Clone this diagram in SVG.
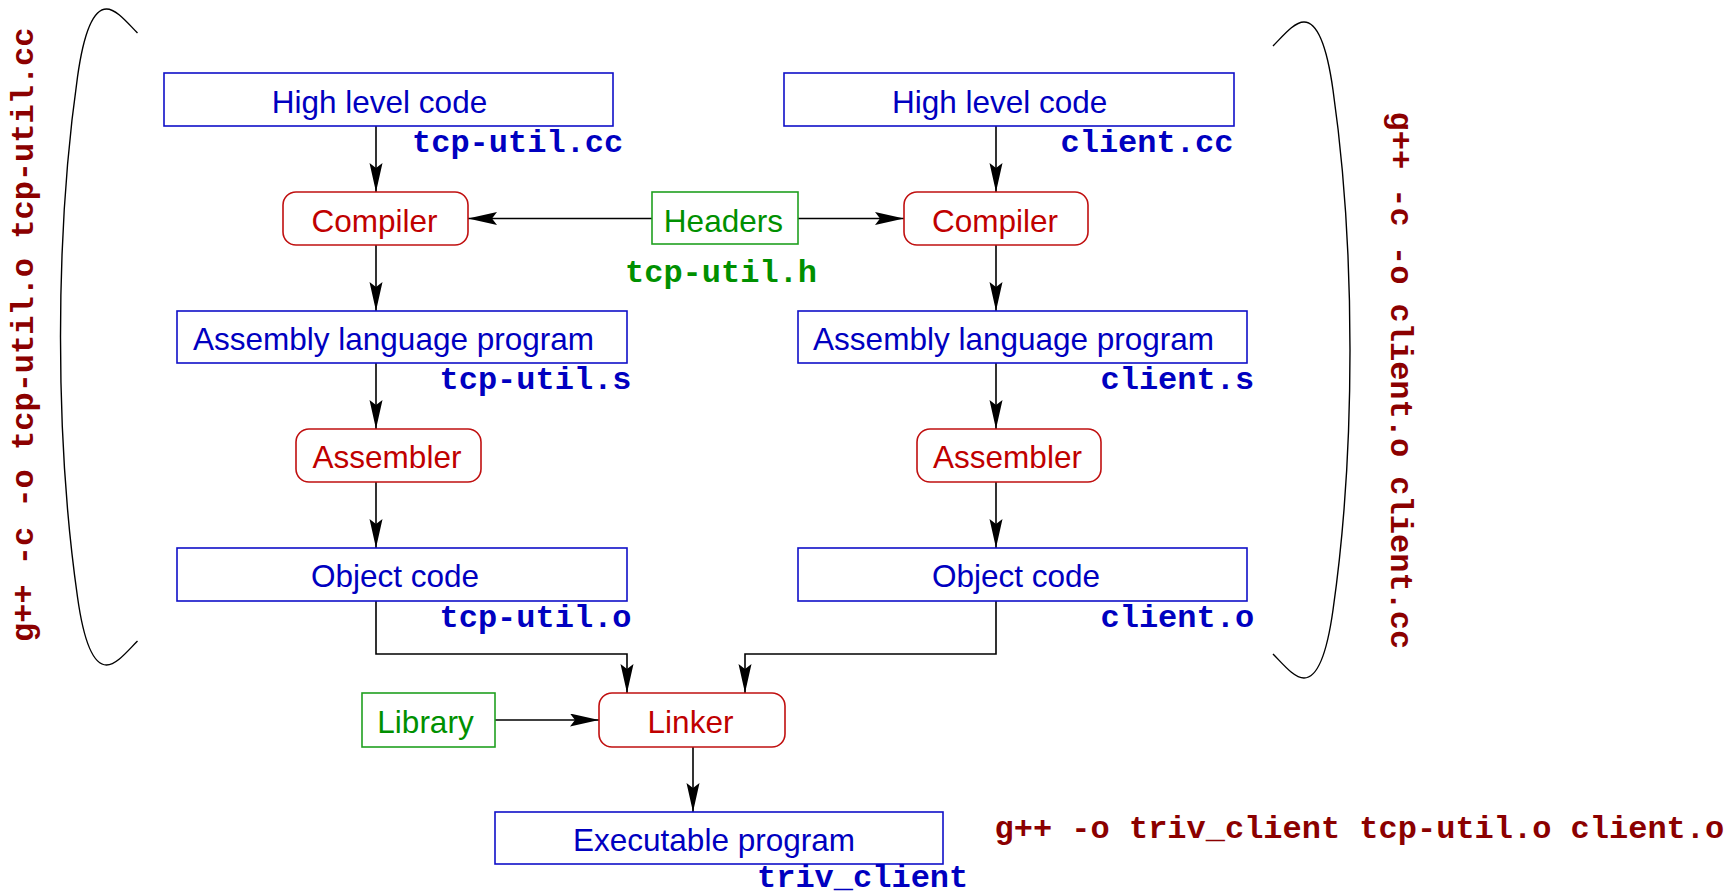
<svg xmlns="http://www.w3.org/2000/svg" width="1734" height="896" viewBox="0 0 1734 896">
  <style>
    .file { fill: #fff; stroke: #1010c8; stroke-width: 1.6; }
    .tool { fill: #fff; stroke: #c01010; stroke-width: 1.6; }
    .input { fill: #fff; stroke: #20a020; stroke-width: 1.6; }
    .lbl { font-family: "Liberation Sans", Arial, sans-serif; font-size: 31.5px; text-anchor: middle; }
    .blue { fill: #0000c0; }
    .red { fill: #c00000; }
    .green { fill: #009000; }
    .mono { font-family: "Liberation Mono", "Courier New", monospace; font-weight: bold; font-size: 32px; }
    .cmd { fill: #8b0000; }
    .edge { fill: none; stroke: #000; stroke-width: 1.6; marker-end: url(#arr); }
    .paren { fill: none; stroke: #000; stroke-width: 1.4; }
  </style>
  <defs>
    <marker id="arr" markerUnits="userSpaceOnUse" markerWidth="32" markerHeight="14" refX="29" refY="6.5" orient="auto">
      <path d="M0,0 L29,6.5 L0,13 L5,6.5 Z" fill="#000"/>
    </marker>
  </defs>

  <rect width="1734" height="896" fill="#fff"/>

  <!-- grouping parentheses -->
  <g id="brackets">
    <path class="paren" d="M137.5,33 C127.5,23 116.5,9 106.5,9 C94.5,9 84.5,27 77.5,77 C67.5,147 60.5,237 60.5,337 C60.5,437 67.5,527 77.5,597 C84.5,647 94.5,665 106.5,665 C116.5,665 127.5,651 137.5,641"/>
    <path class="paren" d="M1273,46 C1283,36 1294,22 1304,22 C1316,22 1326,40 1333,90 C1343,160 1350,250 1350,350 C1350,450 1343,540 1333,610 C1326,660 1316,678 1304,678 C1294,678 1283,664 1273,654"/>
  </g>

  <!-- connectors -->
  <g id="connectors">
    <path class="edge" d="M376,126 V192"/>
    <path class="edge" d="M376,245 V311"/>
    <path class="edge" d="M376,363 V429"/>
    <path class="edge" d="M376,482 V548"/>
    <path class="edge" d="M996,126 V192"/>
    <path class="edge" d="M996,245 V311"/>
    <path class="edge" d="M996,363 V429"/>
    <path class="edge" d="M996,482 V548"/>
    <path class="edge" d="M652,218.5 H468"/>
    <path class="edge" d="M798,218.5 H904"/>
    <path class="edge" d="M376,601 V654 H627 V693"/>
    <path class="edge" d="M996,601 V654 H745 V693"/>
    <path class="edge" d="M495,720 H599"/>
    <path class="edge" d="M693,747 V812"/>
  </g>

  <!-- left column: tcp-util -->
  <g id="hlc-left">
    <rect class="file" x="164" y="73" width="449" height="53"/>
    <text class="lbl blue" x="379.5" y="113">High level code</text>
    <text class="mono blue" x="412" y="152">tcp-util.cc</text>
  </g>
  <g id="compiler-left">
    <rect class="tool" x="283" y="192" width="185" height="53" rx="13"/>
    <text class="lbl red" x="374.5" y="231.5">Compiler</text>
  </g>
  <g id="asm-left">
    <rect class="file" x="177" y="311" width="450" height="52"/>
    <text class="lbl blue" x="393.5" y="350">Assembly language program</text>
    <text class="mono blue" x="439.5" y="389">tcp-util.s</text>
  </g>
  <g id="assembler-left">
    <rect class="tool" x="296" y="429" width="185" height="53" rx="13"/>
    <text class="lbl red" x="387" y="468">Assembler</text>
  </g>
  <g id="obj-left">
    <rect class="file" x="177" y="548" width="450" height="53"/>
    <text class="lbl blue" x="395" y="587">Object code</text>
    <text class="mono blue" x="439.5" y="627">tcp-util.o</text>
  </g>

  <!-- shared header -->
  <g id="headers">
    <rect class="input" x="652" y="192" width="146" height="52"/>
    <text class="lbl green" x="723.4" y="232">Headers</text>
    <text class="mono green" x="625" y="282">tcp-util.h</text>
  </g>

  <!-- right column: client -->
  <g id="hlc-right">
    <rect class="file" x="784" y="73" width="450" height="53"/>
    <text class="lbl blue" x="999.6" y="113">High level code</text>
    <text class="mono blue" x="1060.5" y="152">client.cc</text>
  </g>
  <g id="compiler-right">
    <rect class="tool" x="904" y="192" width="184" height="53" rx="13"/>
    <text class="lbl red" x="995" y="231.5">Compiler</text>
  </g>
  <g id="asm-right">
    <rect class="file" x="798" y="311" width="449" height="52"/>
    <text class="lbl blue" x="1013.6" y="350">Assembly language program</text>
    <text class="mono blue" x="1100.5" y="389">client.s</text>
  </g>
  <g id="assembler-right">
    <rect class="tool" x="917" y="429" width="184" height="53" rx="13"/>
    <text class="lbl red" x="1007.5" y="468">Assembler</text>
  </g>
  <g id="obj-right">
    <rect class="file" x="798" y="548" width="449" height="53"/>
    <text class="lbl blue" x="1016" y="587">Object code</text>
    <text class="mono blue" x="1100.5" y="627">client.o</text>
  </g>

  <!-- link stage -->
  <g id="library">
    <rect class="input" x="362" y="693" width="133" height="54"/>
    <text class="lbl green" x="425.5" y="733">Library</text>
  </g>
  <g id="linker">
    <rect class="tool" x="599" y="693" width="186" height="54" rx="13"/>
    <text class="lbl red" x="690.5" y="733">Linker</text>
  </g>
  <g id="executable">
    <rect class="file" x="495" y="812" width="448" height="52"/>
    <text class="lbl blue" x="714" y="851">Executable program</text>
    <text class="mono blue" x="757" y="887">triv_client</text>
  </g>

  <!-- build commands -->
  <g id="commands">
    <text class="mono cmd" transform="translate(33,642) rotate(-90)">g++ -c -o tcp-util.o tcp-util.cc</text>
    <text class="mono cmd" transform="translate(1391,111.5) rotate(90)">g++ -c -o client.o client.cc</text>
    <text class="mono cmd" x="994.5" y="837.5">g++ -o triv_client tcp-util.o client.o</text>
  </g>
</svg>
